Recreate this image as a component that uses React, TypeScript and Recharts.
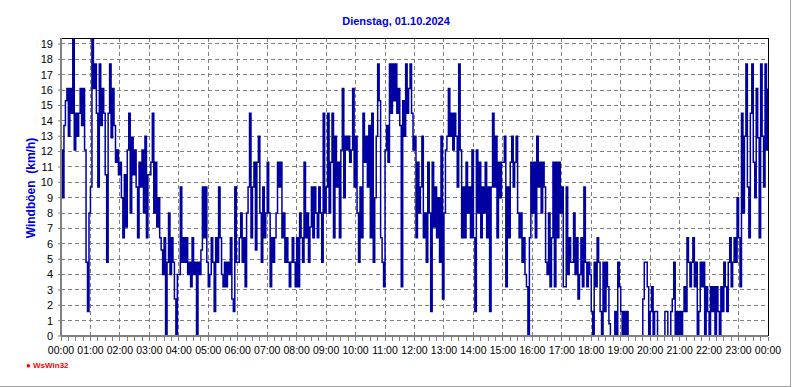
import React from 'react';
import { LineChart, Line, XAxis, YAxis, CartesianGrid, ReferenceLine } from 'recharts';

// Windböen in km/h, one value every 3 minutes, one array per hour
const h00 = [12.1, 9.0, 13.7, 15.3, 16.1, 13.0, 16.1, 14.5, 19.3, 12.1, 14.5, 13.0, 14.5, 16.1, 13.7, 16.1, 12.1, 4.8, 1.6, 8.0];
const h01 = [9.7, 19.3, 16.1, 17.7, 14.5, 9.7, 17.7, 13.7, 16.1, 14.5, 10.5, 4.8, 14.5, 17.7, 12.9, 16.1, 13.7, 11.3, 12.1, 10.5];
const h02 = [11.3, 9.0, 6.4, 10.5, 7.1, 12.1, 14.5, 8.0, 12.9, 10.5, 12.1, 9.7, 6.4, 11.3, 9.7, 12.1, 8.0, 13.0, 6.4, 10.5];
const h03 = [10.5, 11.3, 14.5, 8.0, 11.3, 7.1, 9.0, 6.4, 5.6, 4.0, 6.4, 0.0, 4.8, 8.0, 4.0, 6.4, 4.8, 2.4, 0.0, 4.0];
const h04 = [4.0, 9.7, 4.8, 6.4, 4.8, 6.4, 4.0, 4.8, 3.2, 6.4, 4.0, 4.8, 0.0, 4.8, 4.0, 5.6, 9.7, 6.4, 9.7, 4.8];
const h05 = [3.2, 4.0, 6.4, 4.8, 1.6, 6.4, 4.8, 9.7, 6.4, 4.0, 3.2, 4.8, 3.2, 4.8, 4.0, 6.4, 2.4, 1.6, 9.7, 4.8];
const h06 = [4.8, 6.4, 8.0, 4.8, 6.4, 3.2, 8.0, 9.7, 14.5, 6.4, 9.7, 11.3, 5.6, 11.3, 13.0, 8.0, 4.8, 9.7, 6.4, 8.0];
const h07 = [11.3, 8.0, 3.2, 6.4, 4.8, 6.4, 8.0, 11.3, 9.7, 11.3, 6.4, 8.0, 4.8, 6.4, 4.8, 3.2, 4.8, 6.4, 4.8, 3.2];
const h08 = [6.4, 3.2, 8.0, 6.4, 4.8, 11.3, 6.4, 8.0, 4.8, 7.1, 9.7, 6.4, 9.7, 8.0, 6.4, 9.7, 8.0, 4.8, 14.5, 8.0];
const h09 = [9.7, 14.5, 8.0, 11.3, 14.5, 6.4, 13.0, 9.7, 11.3, 6.4, 12.1, 16.1, 9.0, 13.0, 12.1, 13.0, 11.3, 12.1, 16.1, 9.7];
const h10 = [13.0, 8.0, 4.8, 9.7, 6.4, 14.5, 11.3, 13.0, 9.7, 13.7, 6.4, 14.5, 4.8, 9.0, 13.0, 17.7, 15.3, 6.4, 4.8, 3.2];
const h11 = [12.1, 13.7, 11.3, 17.7, 14.5, 17.7, 15.3, 17.7, 14.5, 16.1, 13.7, 3.2, 15.3, 13.0, 17.7, 14.5, 16.1, 17.7, 14.5, 12.1];
const h12 = [13.0, 6.4, 11.3, 8.0, 9.7, 13.0, 6.4, 8.0, 4.8, 11.3, 8.0, 1.6, 11.3, 7.1, 9.7, 6.4, 9.0, 4.8, 13.0, 2.4];
const h13 = [8.0, 12.1, 13.0, 16.1, 13.0, 14.5, 12.1, 14.5, 13.0, 9.7, 17.7, 12.1, 6.4, 9.7, 6.4, 11.3, 8.0, 9.7, 6.4, 12.1];
const h14 = [6.4, 1.6, 12.1, 8.0, 11.3, 6.4, 9.7, 8.0, 11.3, 6.4, 9.7, 1.6, 9.7, 14.5, 9.7, 13.0, 6.4, 11.3, 9.0, 11.3];
const h15 = [11.3, 13.0, 3.2, 9.7, 6.4, 11.3, 13.0, 9.7, 11.3, 13.0, 8.0, 6.4, 8.0, 4.8, 6.4, 4.0, 3.2, 0.0, 6.4, 11.3];
const h16 = [8.0, 11.3, 6.4, 13.0, 9.7, 11.3, 8.0, 11.3, 9.7, 4.8, 4.0, 8.0, 3.2, 6.4, 11.3, 3.2, 11.3, 6.4, 11.3, 8.0];
const h17 = [9.7, 3.2, 3.2, 9.7, 4.0, 6.4, 4.8, 4.8, 8.0, 4.0, 6.4, 2.4, 4.0, 6.4, 3.2, 9.7, 4.8, 3.2, 4.8, 4.0];
const h18 = [1.6, 0.0, 4.8, 3.2, 6.4, 4.8, 1.6, 0.0, 4.8, 1.6, 4.8, 3.2, 0.8, 0.0, 0.0, 0.0, 1.6, 0.0, 4.8, 3.2];
const h19 = [1.6, 0.0, 1.6, 0.0, 1.6, 0.0, 0.0, 0.0, 0.0, 0.0, 0.0, 0.0, 0.0, 0.0, 0.0, 2.4, 4.8, 4.8, 3.2, 0.0];
const h20 = [1.6, 3.2, 0.0, 1.6, 1.6, 0.0, 0.0, 0.0, 0.0, 0.0, 1.6, 1.6, 0.0, 0.0, 1.6, 2.4, 4.8, 0.0, 1.6, 0.0];
const h21 = [1.6, 0.0, 1.6, 3.2, 1.6, 6.4, 4.8, 3.2, 4.8, 6.4, 3.2, 4.8, 0.0, 1.6, 4.8, 3.2, 4.8, 0.0, 3.2, 1.6];
const h22 = [0.0, 3.2, 1.6, 3.2, 0.0, 3.2, 1.6, 0.0, 3.2, 1.6, 4.8, 3.2, 1.6, 4.8, 6.4, 3.2, 4.8, 6.4, 4.8, 9.0];
const h23 = [6.4, 3.2, 14.5, 8.0, 13.0, 17.7, 9.7, 6.4, 14.5, 17.7, 11.3, 9.0, 16.1, 12.9, 6.4, 17.7, 13.0, 9.7, 17.7, 12.1];
const endValue = 16.1;

const hourArrays = [h00, h01, h02, h03, h04, h05, h06, h07, h08, h09, h10, h11, h12, h13, h14, h15, h16, h17, h18, h19, h20, h21, h22, h23];
const STEP_MIN = 3;

const windData = hourArrays.flatMap((vals, h) => vals.map((v, i) => ({ t: h * 60 + i * STEP_MIN, v })));
windData.push({ t: 1440, v: endValue });

const Y_MAX = 19.39;
const yTicks = Array.from({ length: 20 }, (_, i) => i);
const xTicks = Array.from({ length: 97 }, (_, i) => i * 15);
const hourLines = Array.from({ length: 23 }, (_, i) => (i + 1) * 60);

const FONT = '"Liberation Sans", Arial, sans-serif';
const GRAY = '#808080';

const fmtHour = (t: number) => String((t / 60) % 24).padStart(2, '0') + ':00';

const XTick = (props: any) => {
  const { x, payload } = props;
  const isHour = payload.value % 60 === 0;
  return (
    <g>
      <line x1={x} x2={x} y1={337} y2={341} stroke={GRAY} shapeRendering="crispEdges" />
      {isHour && (
        <text x={x} y={354} textAnchor="middle" fontSize={10.5} fontFamily={FONT} fill="#000">
          {fmtHour(payload.value)}
        </text>
      )}
    </g>
  );
};

export default function App() {
  return (
    <div style={{ position: 'absolute', left: 0, top: 0, width: 792, height: 387, background: '#fff', fontFamily: FONT }}>
      <div style={{ position: 'absolute', left: 0, top: 0, width: 791, height: 387, boxSizing: 'border-box', borderRight: '1px solid #a0a0a0', borderBottom: '1px solid #a0a0a0' }} />
      <div style={{ position: 'absolute', left: 0, width: 792, top: 15, textAlign: 'center', color: '#0000DD', fontWeight: 'bold', fontSize: 11 }}>
        Dienstag, 01.10.2024
      </div>
      <div style={{ position: 'absolute', left: 31, top: 188, transform: 'translate(-50%, -50%) rotate(-90deg)', whiteSpace: 'pre', color: '#0000DD', fontWeight: 'bold', fontSize: 12 }}>
        Windböen  (km/h)
      </div>
      <div style={{ position: 'absolute', left: 26, top: 361, color: '#ff0000', fontWeight: 'bold', fontSize: 8 }}>
        ● WsWin32
      </div>
      <LineChart
        width={792}
        height={387}
        data={windData}
        margin={{ top: 38, right: 24, bottom: 0, left: 0 }}
        style={{ position: 'absolute', left: 0, top: 0 }}
      >
        <CartesianGrid vertical={false} stroke={GRAY} strokeDasharray="4 3" shapeRendering="crispEdges" />
        {hourLines.map((t) => (
          <ReferenceLine key={t} x={t} stroke={GRAY} strokeDasharray="4 3" shapeRendering="crispEdges" />
        ))}
        <XAxis
          type="number"
          dataKey="t"
          domain={[0, 1440]}
          ticks={xTicks}
          interval={0}
          height={51}
          tickLine={false}
          axisLine={{ stroke: GRAY, strokeWidth: 2 }}
          tick={<XTick />}
          allowDataOverflow
        />
        <YAxis
          type="number"
          domain={[0, Y_MAX]}
          ticks={yTicks}
          interval={0}
          width={61}
          tickSize={3}
          tickMargin={5}
          tickLine={{ stroke: GRAY }}
          axisLine={{ stroke: GRAY, strokeWidth: 2 }}
          tick={{ fontSize: 11, fill: '#000', fontFamily: FONT }}
          allowDataOverflow
        />
        <ReferenceLine y={Y_MAX} stroke="#000" shapeRendering="crispEdges" />
        <ReferenceLine x={1440} stroke="#000" shapeRendering="crispEdges" />
        <Line type="stepAfter" dataKey="v" stroke="#0000A0" strokeWidth={1.5} dot={false} isAnimationActive={false} />
      </LineChart>
    </div>
  );
}
